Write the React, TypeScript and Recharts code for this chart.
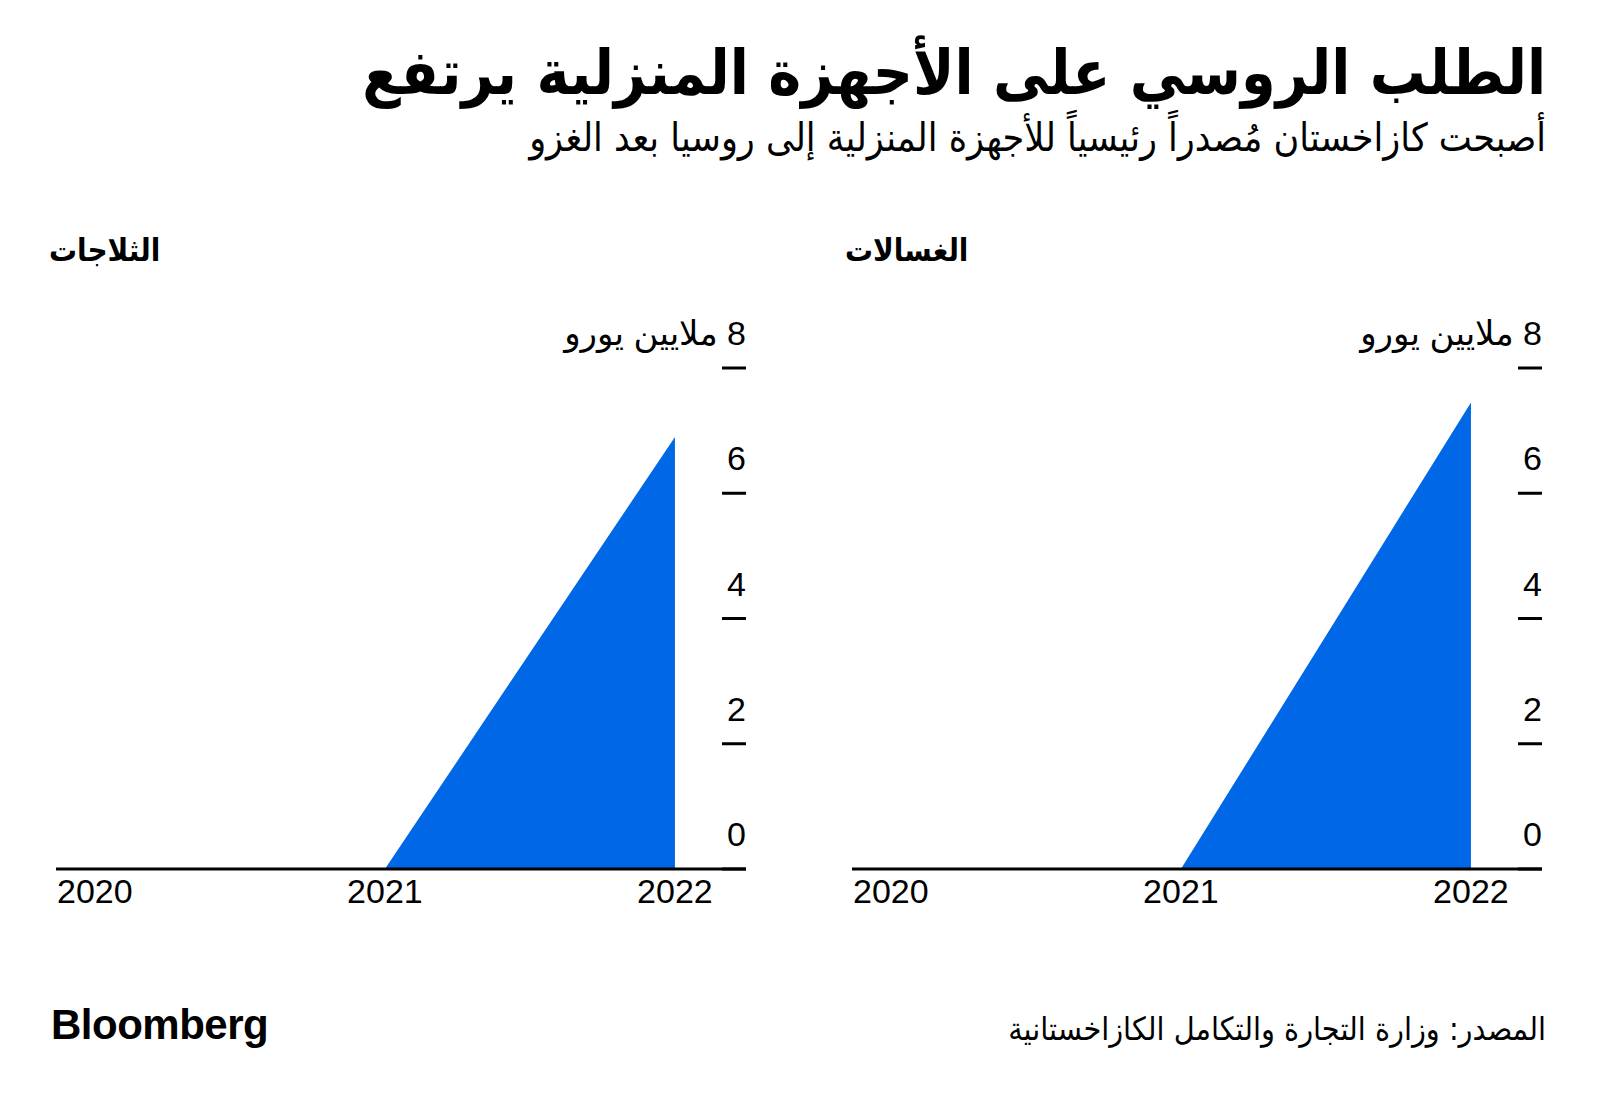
import { AreaChart, Area, XAxis, YAxis } from 'recharts'

// Kazakhstan exports of home appliances to Russia, million euros
const YEARS = [2020, 2021, 2022]
const FRIDGES = [0, 0, 6.9]
const WASHERS = [0, 0, 7.45]
const Y_TICKS = [0, 2, 4, 6, 8]
const Y_TICK_LABELS = ['0', '2', '4', '6', '8 ملايين يورو']

const TITLE = 'الطلب الروسي على الأجهزة المنزلية يرتفع'
const SUBTITLE = 'أصبحت كازاخستان مُصدراً رئيسياً للأجهزة المنزلية إلى روسيا بعد الغزو'
const PANEL_TITLES = ['الثلاجات', 'الغسالات']
const SOURCE = 'المصدر: وزارة التجارة والتكامل الكازاخستانية'

const BLUE = '#0068e6'
const NUM_FONT = '"Liberation Sans", "DejaVu Sans", sans-serif'
const AR_FONT = '"DejaVu Sans Condensed", "DejaVu Sans", sans-serif'

function YTick({ x, y, payload }: any) {
  const label = Y_TICK_LABELS[Y_TICKS.indexOf(payload.value)]
  return (
    <g>
      <line x1={x - 24} x2={x} y1={y} y2={y} stroke="#000" strokeWidth={3} />
      <text x={x} y={y - 23} direction="rtl" textAnchor="start" fontSize={34} fontFamily={NUM_FONT} fill="#000">
        {label}
      </text>
    </g>
  )
}

function XTick({ x, y, payload }: any) {
  return (
    <text x={x} y={y + 34} textAnchor="middle" fontSize={34} fontFamily={NUM_FONT} fill="#000">
      {payload.value}
    </text>
  )
}

function Panel({ title, values, left }: { title: string; values: number[]; left: number }) {
  const data = YEARS.map((year, i) => ({ year, value: values[i] }))
  return (
    <>
      <div
        dir="rtl"
        style={{
          position: 'absolute', left: left - 7, top: 230, lineHeight: '40px',
          fontSize: 31, fontWeight: 700, fontFamily: AR_FONT, whiteSpace: 'nowrap',
        }}
      >
        {title}
      </div>
      <div style={{ position: 'absolute', left, top: 308 }}>
        <AreaChart width={690} height={611} data={data} margin={{ top: 60, right: 0, bottom: 5, left: 0 }} style={{ overflow: 'visible' }}>
          <XAxis
            dataKey="year"
            type="number"
            domain={[2019.866, 2022.245]}
            ticks={YEARS}
            allowDataOverflow
            height={45}
            tickSize={0}
            tickMargin={0}
            tickLine={false}
            axisLine={{ stroke: '#000', strokeWidth: 3 }}
            tick={<XTick />}
            interval={0}
          />
          <YAxis
            orientation="right"
            mirror
            domain={[0, 8]}
            ticks={Y_TICKS}
            tickSize={0}
            tickMargin={0}
            tickLine={false}
            axisLine={false}
            tick={<YTick />}
            interval={0}
          />
          <Area
            type="linear"
            dataKey="value"
            fill={BLUE}
            fillOpacity={1}
            stroke="none"
            isAnimationActive={false}
          />
        </AreaChart>
      </div>
    </>
  )
}

export default function App() {
  return (
    <div style={{ position: 'absolute', left: 0, top: 0, width: 1600, height: 1104, background: '#fff', color: '#000' }}>
      <div
        dir="rtl"
        style={{
          position: 'absolute', right: 54, top: 38, lineHeight: '70px', fontSize: 62,
          fontWeight: 700, fontFamily: AR_FONT, whiteSpace: 'nowrap',
        }}
      >
        {TITLE}
      </div>
      <div
        dir="rtl"
        style={{
          position: 'absolute', right: 54, top: 114, lineHeight: '48px', fontSize: 39,
          fontFamily: AR_FONT, whiteSpace: 'nowrap',
        }}
      >
        {SUBTITLE}
      </div>

      <Panel title={PANEL_TITLES[0]} values={FRIDGES} left={56} />
      <Panel title={PANEL_TITLES[1]} values={WASHERS} left={852} />

      <div
        style={{
          position: 'absolute', left: 51, top: 1000, lineHeight: '50px', fontSize: 42,
          fontWeight: 700, fontFamily: NUM_FONT, letterSpacing: -0.5,
        }}
      >
        Bloomberg
      </div>
      <div
        dir="rtl"
        style={{
          position: 'absolute', right: 54, top: 1009, lineHeight: '40px', fontSize: 32,
          fontFamily: AR_FONT, whiteSpace: 'nowrap',
        }}
      >
        {SOURCE}
      </div>
    </div>
  )
}
